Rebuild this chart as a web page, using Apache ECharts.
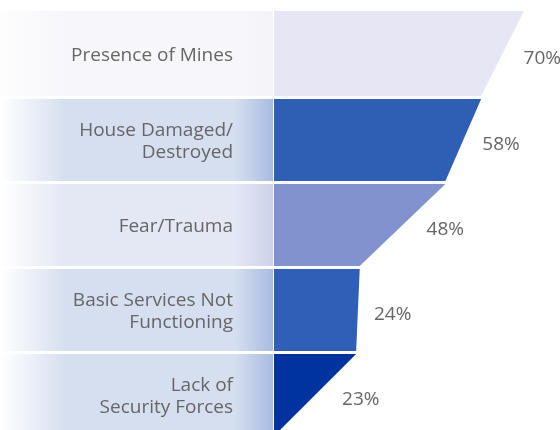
<!DOCTYPE html>
<html>
<head>
<meta charset="utf-8">
<script src="https://cdn.jsdelivr.net/npm/echarts@6/dist/echarts.min.js"></script>
<style>
  html, body { margin: 0; padding: 0; background: #fff; }
  #main { width: 560px; height: 430px; }
</style>
</head>
<body>
<div id="main"></div>
<script>
// data
const categories = [
    'Presence of Mines',
    'House Damaged/\nDestroyed',
    'Fear/Trauma',
    'Basic Services Not\nFunctioning',
    'Lack of\nSecurity Forces'
];
const values = [70, 58, 48, 24, 23];
const barColors = ['#e6e6f5', '#2e5fb5', '#8292ce', '#2f5fb6', '#0033a0'];
// left box gradient: [left, middle, right]
const boxColors = [
    ['#fdfdfe', '#f7f7fb', '#f3f3f9'],
    ['#ffffff', '#d6dff0', '#a9bbe0'],
    ['#ffffff', '#e4e7f4', '#cdd2ec'],
    ['#ffffff', '#d6dff0', '#a9bbe0'],
    ['#ffffff', '#d6dff0', '#a9bbe0']
];

// layout
const rowHeights = [85, 82, 82, 82, 82];
const pctNudgeX = [0, -2, 3, -5, 6];
const textFont = '"Open Sans", sans-serif';

var myChart = echarts.init(document.getElementById('main'), null, { renderer: 'canvas' });

function boxGradient(c) {
    return new echarts.graphic.LinearGradient(0, 0, 1, 0, [
        { offset: 0, color: c[0] },
        { offset: 0.24, color: c[1] },
        { offset: 0.86, color: c[1] },
        { offset: 1, color: c[2] }
    ]);
}

var boxData = [], funnelData = [];
for (let i = 0; i < categories.length; i++) {
    boxData.push({
        name: categories[i],
        value: 1,
        itemStyle: { height: rowHeights[i], color: boxGradient(boxColors[i]) }
    });
    funnelData.push({
        name: categories[i],
        value: values[i],
        itemStyle: { height: rowHeights[i], color: barColors[i] }
    });
}

var option = {
    animation: false,
    series: [
        {
            // label boxes on the left
            type: 'funnel',
            left: 0,
            top: 11,
            width: 273,
            height: 425,
            gap: 3,
            min: -1e6,
            max: 1,
            sort: 'none',
            funnelAlign: 'left',
            silent: true,
            itemStyle: { borderWidth: 0 },
            label: {
                show: true,
                position: 'insideRight',
                formatter: '{b}',
                color: '#666',
                fontFamily: textFont,
                fontSize: 19,
                lineHeight: 22,
                align: 'right',
                padding: [0, 35, 0, 0]
            },
            labelLayout: { dy: 2 },
            labelLine: { show: false },
            data: boxData
        },
        {
            // the funnel itself
            type: 'funnel',
            left: 274,
            top: 11,
            width: 250,
            height: 425,
            gap: 3,
            min: 0,
            max: 70,
            sort: 'none',
            funnelAlign: 'left',
            silent: true,
            itemStyle: { borderWidth: 0 },
            label: {
                show: true,
                position: 'right',
                formatter: '{c}%',
                color: '#666',
                fontFamily: textFont,
                fontSize: 19
            },
            labelLayout: function (params) {
                return { dx: pctNudgeX[params.dataIndex] || 0, dy: 5 };
            },
            labelLine: { show: false, length: 16 },
            data: funnelData
        }
    ]
};

myChart.setOption(option);
</script>
</body>
</html>
